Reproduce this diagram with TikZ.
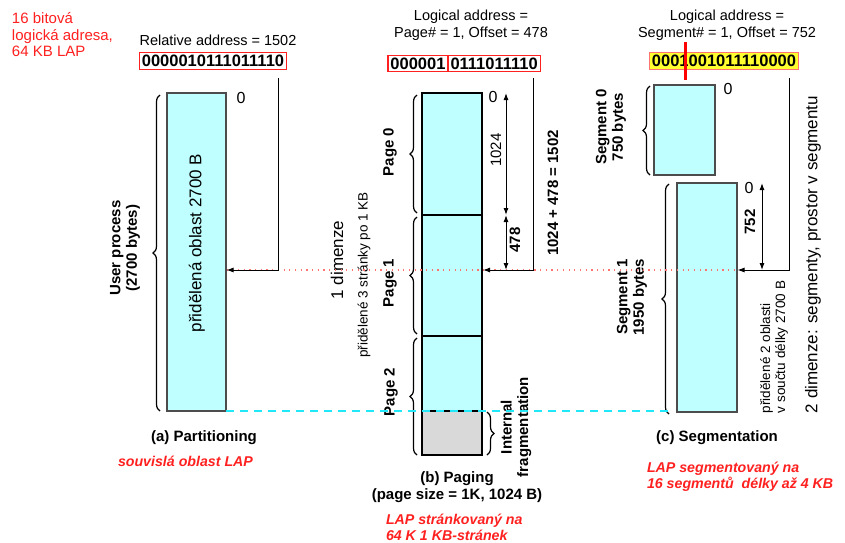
\documentclass[tikz,border=0pt]{standalone}
\usepackage{fontspec}
\setmainfont{Liberation Sans}
\usetikzlibrary{decorations.pathreplacing,arrows.meta,calc}
\definecolor{memcyan}{HTML}{C0FFFF}
\definecolor{redtxt}{HTML}{FF2020}
\definecolor{dashcyan}{HTML}{20E8F8}
\definecolor{segyellow}{HTML}{FFFF30}
\begin{document}
\begin{tikzpicture}[x=1pt,y=-1pt,
  every node/.style={inner sep=0pt, outer sep=0pt},
  mem/.style={draw=black!70, line width=1.1pt, fill=memcyan, anchor=north west},
  pagebox/.style={draw=black, line width=1.5pt, fill=memcyan, anchor=north west, minimum width=60pt},
  txt/.style={font=\fontsize{14.5}{17}\selectfont, align=center},
  bigtxt/.style={font=\fontsize{17}{20}\selectfont, align=center},
  smalltxt/.style={font=\fontsize{13.5}{15}\selectfont, align=left},
  bldtxt/.style={font=\fontsize{15}{16.5}\selectfont\bfseries, align=center},
  zero/.style={font=\fontsize{16}{18}\selectfont},
  redlbl/.style={font=\fontsize{14.2}{16}\selectfont\bfseries\itshape, text=redtxt, align=left},
  redplain/.style={font=\fontsize{15}{16.5}\selectfont, text=redtxt, align=left},
  binbox/.style={draw=redtxt, line width=1.2pt, font=\fontsize{16.5}{18}\selectfont\bfseries, inner xsep=2.5pt, inner ysep=2.5pt},
  arr/.style={line width=1pt, -{Latex[length=7pt,width=5pt]}},
  darr/.style={line width=1pt, {Latex[length=7pt,width=5pt]}-{Latex[length=7pt,width=5pt]}},
  brc/.style={decorate, decoration={brace, amplitude=7pt}, line width=1.2pt},
  reddot/.style={draw=red!55, line width=1.1pt, dash pattern=on 1.2pt off 4.5pt},
  cyandash/.style={draw=dashcyan, line width=1.4pt, dash pattern=on 8pt off 6pt}
]
\useasboundingbox[fill=white] (0,0) rectangle (845,542);

% ---------- top-left note
\node[redplain, anchor=west] (note) at (12,35) {16 bitová\\logická adresa,\\64 KB LAP};

% ---------- (a) partitioning
\node[txt] (rel) at (218,40) {Relative address = 1502};
\node[binbox] (bin1) at (213,61) {0000010111011110};
\node[mem, minimum width=59pt, minimum height=318pt] (part) at (167,93) {};
\node[bigtxt, rotate=90] (parttxt) at (197,243) {přidělená oblast 2700 B};
\node[zero] (z1) at (241,98) {0};
\draw[brc] ($(part.south west)+(-7,0)$) -- ($(part.north west)+(-7,2)$);
\node[bldtxt, rotate=90] (userp) at (125,248) {User process\\(2700 bytes)};
\node[bldtxt] (capa) at (204,438) {(a) Partitioning};
\node[redlbl, anchor=west] (reda) at (118,461) {souvislá oblast LAP};

% ---------- (b) paging
\node[txt] (la2) at (471,25) {Logical address =\\Page\# = 1, Offset = 478};
\node[binbox, anchor=east] (bin2a) at (448,63.5) {000001};
\node[binbox, anchor=west] (bin2b) at (448,63.5) {0111011110};
\node[pagebox, minimum height=122pt] (pg0) at (422,93) {};
\node[pagebox, minimum height=121pt] (pg1) at (422,215) {};
\node[pagebox, minimum height=75pt] (pg2) at (422,336) {};
\node[pagebox, fill=gray!30, minimum height=44pt] (frag) at (422,411) {};
\draw[brc] ($(pg0.south west)+(-5,-2)$) -- ($(pg0.north west)+(-5,2)$);
\draw[brc] ($(pg1.south west)+(-5,-2)$) -- ($(pg1.north west)+(-5,2)$);
\draw[brc] ($(frag.south west)+(-5,0)$) -- ($(pg2.north west)+(-5,2)$);
\draw[brc] ($(frag.north east)+(5,1)$) -- ($(frag.south east)+(5,0)$);
\node[bldtxt, rotate=90] (p0) at (390,152) {Page 0};
\node[bldtxt, rotate=90] (p1) at (390,283) {Page 1};
\node[bldtxt, rotate=90] (p2) at (391,392) {Page 2};
\node[bldtxt, rotate=90] (intf) at (516,427) {Internal\\fragmentation};
\node[bigtxt, rotate=90] (dim1) at (337,260) {1 dimenze};
\node[smalltxt, rotate=90] (p3) at (364,275) {přidělené 3 stránky po 1 KB};
\node[zero] (z2) at (493,97) {0};
\coordinate (d1t) at (506,93);
\coordinate (d1b) at (506,215);
\coordinate (d2b) at (506,270);
\draw[darr] (d1t) -- (d1b);
\draw[darr] (d1b) -- (d2b);
\node[txt, rotate=90, font=\fontsize{15}{17}\selectfont] (n1024) at (496,150) {1024};
\node[bldtxt, rotate=90] (n478) at (515,240) {478};
\node[bldtxt, rotate=90] (sum) at (553,193) {1024 + 478 = 1502};
\node[bldtxt] (capb) at (457,487) {(b) Paging\\(page size = 1K, 1024 B)};
\node[redlbl, anchor=west] (redb) at (386,527) {LAP stránkovaný na\\64 K 1 KB-stránek};

% ---------- (c) segmentation
\node[txt] (la3) at (727,25) {Logical address =\\Segment\# = 1, Offset = 752};
\node[binbox, fill=segyellow, draw=red!55, line width=1.6pt] (bin3) at (724,61) {0001001011110000};
\coordinate (mk1) at (685,42);
\coordinate (mk2) at (685,80);
\draw[red, line width=3pt] (mk1) -- (mk2);
\node[mem, minimum width=61pt, minimum height=90pt] (seg0) at (654,85) {};
\node[mem, minimum width=60pt, minimum height=229pt] (seg1) at (677,183) {};
\node[zero] (z3) at (728,89) {0};
\node[zero] (z4) at (749,188) {0};
\draw[brc] ($(seg0.south west)+(-4,0)$) -- ($(seg0.north west)+(-4,1)$);
\draw[brc] ($(seg1.south west)+(-8,2)$) -- ($(seg1.north west)+(-8,1)$);
\node[bldtxt, rotate=90] (s0) at (611,127) {Segment 0\\750 bytes};
\node[bldtxt, rotate=90] (s1) at (632,297) {Segment 1\\1950 bytes};
\coordinate (e1t) at (762,183);
\coordinate (e1b) at (762,270);
\draw[darr] (e1t) -- (e1b);
\node[bldtxt, rotate=90] (n752) at (750,222) {752};
\node[smalltxt, rotate=90, anchor=west] (p2o) at (774,413) {přidělené 2 oblasti\\v součtu délky 2700 B};
\node[bigtxt, rotate=90, anchor=west] (dim2) at (813,413) {2 dimenze: segmenty, prostor v segmentu};
\node[bldtxt] (capc) at (717,438) {(c) Segmentation};
\node[redlbl, anchor=west] (redc) at (647,477) {LAP segmentovaný na\\16 segmentů\ \ délky až 4 KB};

% ---------- connectors
\coordinate (c1) at (278,78);
\coordinate (t1) at (226.5,270);
\coordinate (c2) at (533,78);
\coordinate (t2) at (483,270);
\coordinate (c3) at (789,78);
\coordinate (t3) at (737.5,270);
\coordinate (dotend) at (740,270);
\coordinate (dashend) at (668,411);
\draw[reddot] (t1) -- (dotend);
\draw[cyandash] (part.south east) -- (dashend);
\draw[arr] (c1) |- (t1);
\draw[arr] (c2) |- (t2);
\draw[arr] (c3) |- (t3);
\end{tikzpicture}
\end{document}
